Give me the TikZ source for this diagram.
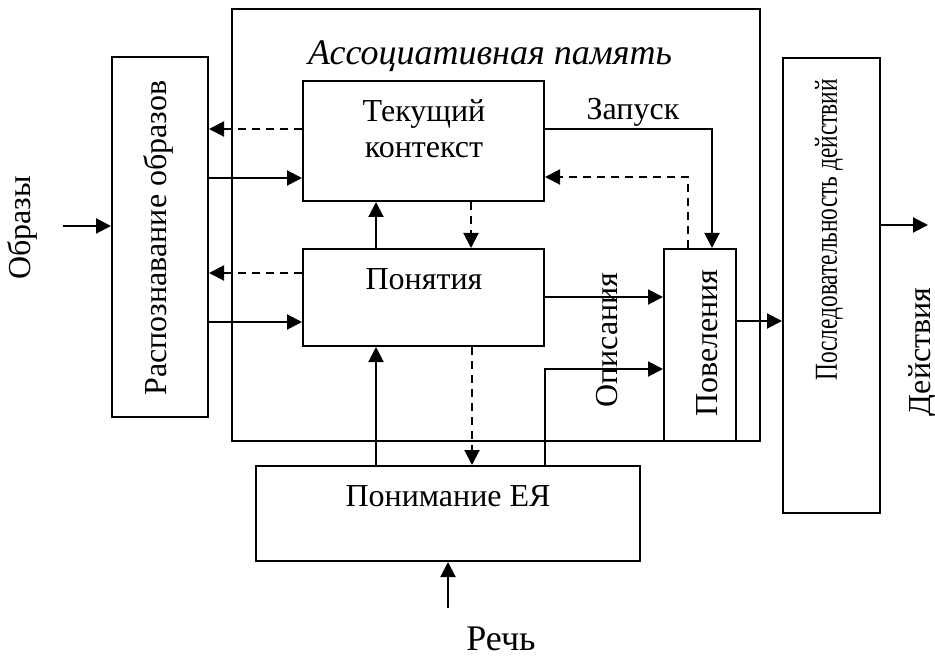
\documentclass[tikz,border=0pt]{standalone}
\usepackage{fontspec}
\setmainfont{Liberation Serif}
\usetikzlibrary{arrows.meta}
\tikzset{
	box/.style={draw, line width=1pt, inner sep=0pt},
	lbl/.style={font=\fontsize{16}{18}\selectfont, inner sep=0pt},
	arr/.style={line width=1pt, -{Triangle[length=7.5pt, width=7.5pt]}},
	dsh/.style={arr, dash pattern=on 4pt off 3pt},
}
\begin{document}
\begin{tikzpicture}[x=0.5pt, y=-0.5pt]
	\useasboundingbox (0, 0) rectangle (935, 657);
	\draw node[box, minimum width=264pt, minimum height=216pt] at (496, 225) (mem) {};
	\draw node[box, minimum width=48pt, minimum height=180pt] at (160, 237) (rec) {};
	\draw node[box, minimum width=120.5pt, minimum height=60pt] at (423.5, 141) (ctx) {};
	\draw node[box, minimum width=120.5pt, minimum height=48.5pt] at (423.5, 297.5) (pon) {};
	\draw node[box, minimum width=36pt, minimum height=96pt] at (700, 345) (pov) {};
	\draw node[box, minimum width=48.5pt, minimum height=227.5pt] at (831.5, 285.5) (seq) {};
	\draw node[box, minimum width=192pt, minimum height=47.5pt] at (448, 513.5) (nlu) {};
	
	\draw node[lbl, font=\itshape\fontsize{18}{21}\selectfont, anchor=base] at (490, 65) (memtxt) {Ассоциативная память};
	\draw node[lbl, align=center, anchor=base] at (424, 158) (ctxtxt) {Текущий\\контекст};
	\draw node[lbl, anchor=base] at (424, 290) (pontxt) {Понятия};
	\draw node[lbl, anchor=base] at (448, 506) (nlutxt) {Понимание ЕЯ};
	\draw node[lbl, anchor=base] at (633, 120) (zap) {Запуск};
	\draw node[lbl, rotate=90] at (158, 238) (rectxt) {Распознавание образов};
	\draw node[lbl, rotate=90] at (707, 343) (povtxt) {Повеления};
	\draw node[lbl, rotate=90] at (607, 340) (opis) {Описания};
	\draw node[lbl, rotate=90] at (829, 230) (seqtxt) {\scalebox{0.73}[1]{Последовательность действий}};
	\draw node[lbl, rotate=90] at (22, 228) (obr) {Образы};
	\draw node[lbl, rotate=90] at (923, 352) (deis) {Действия};
	\draw node[lbl, font=\fontsize{18}{21}\selectfont, anchor=base] at (501, 650) (rech) {Речь};
	
	\coordinate (obrin) at (63, 226);
	\coordinate (dout) at (928, 225);
	\coordinate (rin) at (448, 608);
	
	\draw [dsh] (ctx.west |- 0, 129) -- (rec.east |- 0, 129);
	\draw [arr] (rec.east |- 0, 178) -- (ctx.west |- 0, 178);
	\draw [dsh] (pon.west |- 0, 273) -- (rec.east |- 0, 273);
	\draw [arr] (rec.east |- 0, 322) -- (pon.west |- 0, 322);
	\draw [arr] (pon.north -| 376, 0) -- (ctx.south -| 376, 0);
	\draw [dsh] (ctx.south -| 471, 0) -- (pon.north -| 471, 0);
	\draw [arr] (ctx.east |- 0, 129) -| ([xshift=6pt]pov.north);
	\draw [dsh] ([xshift=-6pt]pov.north) |- (ctx.east |- 0, 177);
	\draw [arr] (pon.east |- 0, 297) -- (pov.west |- 0, 297);
	\draw [arr] (nlu.north -| pon.east) |- (pov.west |- 0, 369);
	\draw [arr] (pov.east |- 0, 321) -- (seq.west |- 0, 321);
	\draw [arr] (nlu.north -| 376, 0) -- (pon.south -| 376, 0);
	\draw [dsh] (pon.south -| 472, 0) -- (nlu.north -| 472, 0);
	\draw [arr] (obrin) -- (obrin -| rec.west);
	\draw [arr] (seq.east |- 0, 225) -- (dout);
	\draw [arr] (rin) -- (rin |- nlu.south);
\end{tikzpicture}
\end{document}
